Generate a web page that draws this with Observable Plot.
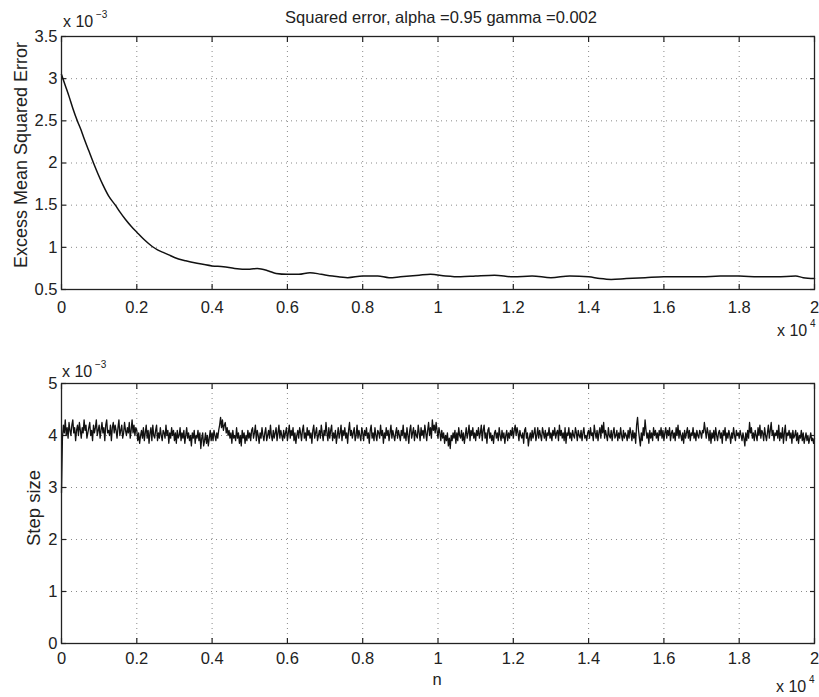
<!DOCTYPE html>
<html>
<head>
<meta charset="utf-8">
<script src="https://cdn.jsdelivr.net/npm/d3@7"></script>
<script src="https://cdn.jsdelivr.net/npm/@observablehq/plot@0.6"></script>
<style>
  html, body { margin: 0; padding: 0; background: #fff; }
  #wrap { position: relative; width: 819px; height: 697px; overflow: hidden; font-family: "Liberation Sans", Arial, sans-serif; }
  #wrap > svg { position: absolute; left: 0; }
</style>
</head>
<body>
<div id="wrap"></div>
<script>
// ---------- data (values in units of 1e-3, n in samples) ----------
const titleText = "Squared error, alpha =0.95 gamma =0.002";
const yLabelTop = "Excess Mean Squared Error";
const yLabelBottom = "Step size";
const xLabelBottom = "n";

const xTickValues = [0, 2000, 4000, 6000, 8000, 10000, 12000, 14000, 16000, 18000, 20000];
const yTicksTop = [0.5, 1, 1.5, 2, 2.5, 3, 3.5];
const yTicksBottom = [0, 1, 2, 3, 4, 5];

const mseN = [0, 100, 200, 300, 420, 520, 600, 720, 850, 970, 1100, 1250, 1430, 1550, 1700, 1850, 2000, 2200, 2410, 2550, 2700, 2850, 3000, 3300, 3600, 4000, 4300, 4600, 5000, 5200, 5500, 5700, 6000, 6300, 6600, 6900, 7200, 7600, 8000, 8400, 8700, 9000, 9500, 9800, 10200, 10600, 11000, 11500, 12000, 12500, 13000, 13500, 14000, 14300, 14600, 15000, 15500, 16000, 16500, 17000, 17500, 18000, 18500, 19000, 19500, 19700, 20000];
const mseVal = [3.05, 2.92, 2.79, 2.65, 2.50, 2.39, 2.29, 2.15, 2.00, 1.87, 1.74, 1.61, 1.50, 1.42, 1.33, 1.25, 1.18, 1.09, 1.01, 0.97, 0.94, 0.91, 0.88, 0.84, 0.81, 0.78, 0.77, 0.75, 0.74, 0.75, 0.72, 0.69, 0.68, 0.68, 0.70, 0.68, 0.66, 0.64, 0.66, 0.66, 0.64, 0.65, 0.67, 0.68, 0.66, 0.65, 0.66, 0.67, 0.65, 0.66, 0.64, 0.66, 0.65, 0.63, 0.62, 0.63, 0.64, 0.65, 0.65, 0.65, 0.66, 0.66, 0.65, 0.65, 0.66, 0.64, 0.63];

const stepEvery = 25; // one value read every 25 samples
const stepVal = [
  2.9, 3.95, 4.2, 4.05, 4.3, 4.0, 4.15, 3.95, 4.25, 4.1, 4.0, 4.2, 4.3, 4.05, 4.15, 3.9, 4.1, 4.2, 4.0, 4.25, 4.1, 3.95, 4.15, 4.05, 4.3, 4.1, 4.2, 3.95, 4.05, 4.15, 4.25, 4.0, 4.1, 3.9, 4.2, 4.05, 4.15, 4.3, 4.0, 4.1,
  4.2, 3.95, 4.1, 4.25, 4.05, 4.15, 3.9, 4.2, 4.3, 4.05, 4.1, 4.0, 4.2, 3.9, 4.15, 4.25, 4.05, 4.2, 4.1, 3.95, 4.15, 4.3, 4.0, 4.1, 4.2, 3.95, 4.05, 4.25, 4.1, 4.0, 4.15, 4.05, 4.25, 3.95, 4.1, 4.3, 4.05, 4.2, 4.0, 4.15,
  4.1, 3.9, 4.05, 3.85, 4.0, 4.1, 3.95, 4.15, 3.9, 4.05, 4.2, 3.95, 4.1, 3.85, 4.05, 4.15, 3.9, 4.2, 4.0, 3.95, 4.1, 4.2, 3.9, 4.05, 3.95, 4.15, 4.0, 3.9, 4.1, 4.05, 3.95, 4.2, 4.0, 4.1, 3.85, 4.05, 3.95, 4.15, 4.0, 4.1,
  3.9, 4.05, 3.85, 4.1, 3.95, 4.0, 4.15, 3.9, 4.05, 3.95, 4.1, 3.85, 4.0, 4.15, 3.95, 4.05, 3.9, 4.0, 3.8, 4.05, 3.95, 4.1, 3.85, 4.0, 3.95, 4.1, 3.9, 4.05, 3.75, 3.95, 4.05, 3.8, 3.9, 4.05, 3.85, 4.0, 3.8, 3.95, 4.1, 3.9,
  4.05, 3.9, 4.1, 4.0, 3.9, 4.05, 3.95, 4.1, 4.2, 4.35, 4.15, 4.3, 4.1, 4.2, 4.25, 4.05, 4.15, 4.0, 4.1, 3.95, 4.05, 3.85, 4.1, 3.95, 4.0, 3.9, 4.15, 3.95, 4.05, 3.85, 4.0, 3.8, 4.1, 3.95, 4.05, 3.85, 4.0, 3.9, 4.1, 3.95,
  4.05, 3.9, 4.1, 4.15, 3.95, 4.05, 4.2, 3.9, 4.1, 4.0, 3.85, 4.05, 3.95, 4.15, 4.0, 3.9, 4.05, 4.15, 3.9, 4.0, 4.1, 3.95, 4.2, 4.0, 3.9, 4.1, 3.95, 4.05, 4.15, 3.9, 4.05, 4.2, 3.95, 4.1, 4.0, 3.9, 4.1, 3.95, 4.05, 4.15,
  3.9, 4.05, 4.2, 3.95, 4.1, 4.0, 4.15, 3.9, 4.05, 3.85, 4.0, 4.1, 3.95, 4.15, 4.05, 3.9, 4.1, 4.2, 3.95, 4.05, 3.9, 4.15, 4.0, 4.1, 3.95, 4.05, 3.85, 4.1, 4.2, 3.95, 4.05, 4.15, 3.9, 4.0, 4.1, 3.95, 4.2, 4.05, 3.9, 4.1,
  4.0, 4.25, 4.05, 3.9, 4.15, 3.95, 4.1, 4.2, 3.9, 4.05, 3.95, 4.1, 3.85, 4.0, 4.15, 3.95, 4.05, 4.2, 3.9, 4.1, 4.0, 4.15, 3.95, 4.05, 3.85, 4.1, 4.25, 4.0, 4.1, 3.95, 4.05, 4.15, 3.9, 4.0, 4.2, 3.95, 4.1, 4.0, 3.9, 4.15,
  4.05, 3.9, 4.1, 4.0, 4.15, 3.95, 4.05, 3.85, 4.1, 4.2, 3.95, 4.05, 3.9, 4.15, 4.0, 3.9, 4.1, 4.05, 3.95, 4.2, 4.0, 4.1, 3.85, 4.05, 3.95, 4.15, 4.0, 4.1, 3.9, 4.05, 4.2, 3.95, 4.1, 4.0, 3.9, 4.05, 4.15, 3.95, 4.1, 4.0,
  3.9, 4.1, 4.0, 4.2, 3.95, 4.05, 3.9, 4.15, 4.0, 3.85, 4.1, 4.2, 3.95, 4.05, 4.15, 3.9, 4.1, 4.0, 3.95, 4.2, 4.05, 3.9, 4.15, 4.0, 4.1, 3.95, 4.2, 4.05, 3.9, 4.1, 4.25, 4.0, 4.15, 3.95, 4.3, 4.1, 4.2, 4.05, 4.25, 4.1,
  3.95, 4.15, 4.05, 3.9, 4.1, 3.95, 4.05, 3.85, 4.0, 3.9, 4.05, 3.8, 3.95, 3.75, 4.0, 3.9, 4.05, 3.95, 4.1, 3.85, 4.05, 3.9, 4.15, 4.0, 3.95, 4.1, 3.9, 4.05, 3.85, 4.0, 4.15, 3.95, 4.05, 4.2, 3.9, 4.1, 4.0, 4.15, 3.95, 4.05,
  3.9, 4.1, 4.0, 4.15, 3.95, 4.05, 4.2, 3.9, 4.1, 4.2, 3.95, 4.05, 3.85, 4.1, 4.15, 3.95, 4.05, 3.9, 4.0, 3.85, 4.05, 4.1, 3.95, 4.05, 3.9, 4.15, 4.0, 3.9, 4.1, 3.95, 4.05, 3.85, 4.0, 4.1, 3.9, 4.05, 3.95, 4.1, 4.0, 4.15,
  3.95, 4.1, 4.2, 4.0, 4.15, 4.05, 3.9, 4.1, 4.0, 3.95, 4.05, 3.85, 4.1, 4.15, 3.95, 4.05, 3.8, 3.95, 4.05, 3.9, 4.1, 3.95, 4.05, 4.15, 3.9, 4.0, 4.15, 3.95, 4.1, 4.0, 3.9, 4.15, 4.05, 3.95, 4.1, 3.9, 4.05, 4.0, 4.15, 3.95,
  4.05, 3.9, 4.1, 4.0, 4.15, 3.95, 4.05, 4.1, 3.9, 4.2, 4.0, 4.1, 3.95, 4.05, 3.9, 4.15, 3.85, 4.05, 4.0, 4.15, 3.95, 4.05, 3.9, 4.1, 4.0, 3.95, 4.15, 4.05, 3.9, 4.1, 4.0, 3.95, 4.1, 3.9, 4.05, 4.15, 3.95, 4.0, 3.9, 4.05,
  4.1, 3.95, 4.15, 4.0, 4.05, 3.9, 4.2, 4.05, 3.95, 4.1, 3.9, 4.05, 4.15, 3.95, 4.2, 4.05, 4.25, 3.95, 4.1, 4.0, 3.9, 4.15, 4.0, 3.95, 4.1, 3.9, 4.05, 4.15, 3.95, 4.0, 4.1, 3.9, 4.05, 3.95, 4.15, 4.0, 3.9, 4.1, 3.95, 4.05,
  4.0, 3.9, 4.1, 3.95, 4.15, 4.05, 3.9, 4.1, 3.95, 4.05, 3.85, 4.2, 4.35, 4.1, 3.95, 3.8, 4.05, 3.9, 4.15, 4.0, 4.3, 4.1, 3.95, 4.05, 3.85, 4.1, 3.95, 4.05, 3.9, 4.15, 4.0, 4.1, 3.95, 4.05, 3.9, 4.1, 4.0, 4.15, 3.95, 4.1,
  3.9, 4.05, 4.15, 3.95, 4.1, 4.0, 4.15, 3.9, 4.05, 4.1, 3.95, 4.05, 3.9, 4.15, 4.0, 4.2, 3.95, 4.1, 4.0, 3.9, 4.05, 3.85, 4.1, 3.95, 4.05, 4.15, 3.95, 4.1, 3.9, 4.05, 4.0, 4.15, 3.95, 4.05, 3.9, 4.1, 4.0, 3.95, 4.1, 4.05,
  3.95, 4.1, 4.05, 4.25, 4.1, 3.95, 4.15, 4.05, 3.9, 4.1, 3.85, 4.05, 3.95, 4.1, 3.9, 4.15, 4.0, 3.9, 4.05, 4.1, 3.95, 4.05, 3.85, 4.1, 4.0, 4.15, 3.9, 4.05, 3.95, 4.1, 4.0, 3.85, 4.05, 3.95, 4.15, 4.0, 3.9, 4.1, 4.0, 4.05,
  3.95, 4.1, 4.0, 3.9, 4.05, 3.95, 3.8, 4.05, 3.9, 4.1, 3.95, 4.25, 4.05, 4.15, 3.95, 4.05, 3.9, 4.1, 4.0, 3.9, 4.15, 4.0, 4.2, 3.95, 4.1, 4.05, 3.9, 4.15, 4.0, 3.9, 4.05, 4.2, 3.95, 4.1, 4.25, 4.0, 4.1, 3.9, 4.05, 4.0,
  4.1, 3.95, 4.2, 3.9, 4.05, 3.95, 4.15, 3.85, 4.05, 4.2, 3.9, 4.05, 4.0, 4.1, 3.95, 4.05, 3.85, 4.1, 3.95, 4.0, 4.1, 3.9, 4.05, 3.85, 4.0, 3.95, 4.1, 3.9, 4.05, 3.85, 3.95, 4.05, 3.9, 4.0, 3.85, 3.95, 4.05, 3.9, 3.95, 3.85,
  3.95
];

// ---------- build tables ----------
const mseData = mseN.map((n, i) => ({n, v: mseVal[i]}));
const stepData = stepVal.map((v, i) => ({n: i * stepEvery, v}));

const FONT = "Liberation Sans, Arial, sans-serif";
const FS = 16.5;
const fmtX = d => d3.format("~g")(d / 10000);
const fmtY = d => d3.format("~g")(d);
const gridStyle = {stroke: "#8a8a8a", strokeOpacity: 1, strokeWidth: 1, strokeDasharray: "1,4"};

function panel({height, marginTop, marginBottom, yDomain, yTicks, data, padX, strokeWidth, curve}) {
  return Plot.plot({
    width: 819,
    height,
    marginTop,
    marginBottom,
    marginLeft: 61,
    marginRight: 5,
    style: {fontFamily: FONT, fontSize: FS + "px", color: "#222", background: "transparent", overflow: "visible"},
    x: {domain: [0, 20000]},
    y: {domain: yDomain},
    marks: [
      Plot.gridX(xTickValues, gridStyle),
      Plot.gridY(yTicks, gridStyle),
      Plot.axisX(xTickValues, {anchor: "bottom", tickSize: -5, tickPadding: padX, tickFormat: fmtX, label: null, strokeWidth: 1.2}),
      Plot.axisX(xTickValues, {anchor: "top", tickSize: -5, tickFormat: () => "", label: null, strokeWidth: 1.2}),
      Plot.axisY(yTicks, {anchor: "left", tickSize: -5, tickPadding: 9, tickFormat: fmtY, label: null, strokeWidth: 1.2}),
      Plot.axisY(yTicks, {anchor: "right", tickSize: -5, tickFormat: () => "", label: null, strokeWidth: 1.2}),
      Plot.line(data, {x: "n", y: "v", stroke: "#111", strokeWidth, curve}),
      Plot.frame({stroke: "#222", strokeWidth: 1.3})
    ]
  });
}

const wrap = document.getElementById("wrap");

const topPlot = panel({height: 345, marginTop: 36, marginBottom: 56, yDomain: [0.5, 3.5], yTicks: yTicksTop, data: mseData, padX: 16.3, strokeWidth: 1.5, curve: "monotone-x"});
topPlot.style.top = "0px";
wrap.appendChild(topPlot);

const botPlot = panel({height: 352, marginTop: 38, marginBottom: 54, yDomain: [0, 5], yTicks: yTicksBottom, data: stepData, padX: 13.3, strokeWidth: 1.3, curve: "linear"});
botPlot.style.top = "345px";
wrap.appendChild(botPlot);

// ---------- annotation overlay ----------
const svg = d3.select(wrap).append("svg")
  .attr("width", 819).attr("height", 697)
  .style("top", "0px")
  .style("font-family", FONT)
  .style("fill", "#222");

svg.append("text").attr("x", 441).attr("y", 23).attr("text-anchor", "middle")
  .style("font-size", FS + "px").text(titleText);

function sci(x, y, exp) {
  const g = svg.append("g");
  g.append("text").attr("x", x).attr("y", y).style("font-size", "16px").text("x 10");
  g.append("text").attr("x", x + 33).attr("y", y - 9).style("font-size", "10px").text(exp);
}
sci(63, 27, "\u22123");
sci(62, 377, "\u22123");
sci(777, 336, "4");
sci(776, 692, "4");

svg.append("text").attr("x", 437).attr("y", 685).attr("text-anchor", "middle")
  .style("font-size", FS + "px").text(xLabelBottom);

svg.append("text").attr("transform", "translate(27,155) rotate(-90)").attr("text-anchor", "middle")
  .style("font-size", "18px").text(yLabelTop);
svg.append("text").attr("transform", "translate(40,508) rotate(-90)").attr("text-anchor", "middle")
  .style("font-size", "18.5px").text(yLabelBottom);
</script>
</body>
</html>
